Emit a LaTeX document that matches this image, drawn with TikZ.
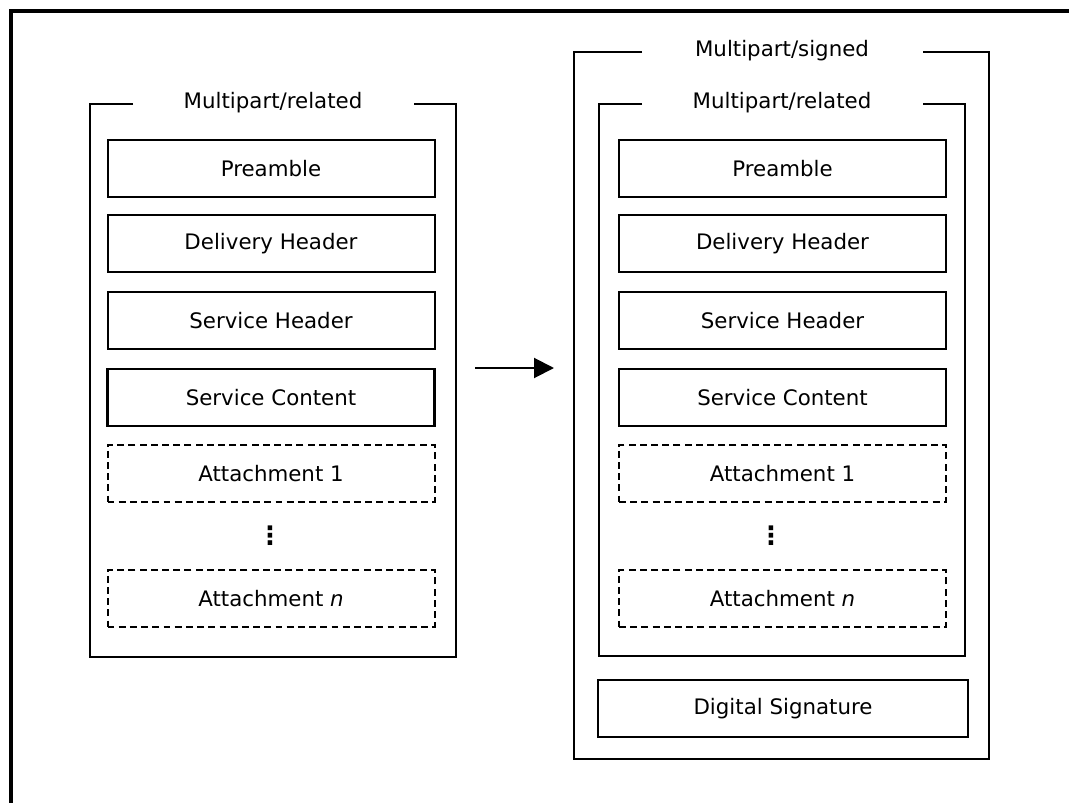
\documentclass[tikz,border=0pt]{standalone}
\usepackage{fontspec}
\setmainfont{DejaVu Sans}
\usetikzlibrary{arrows.meta}
\begin{document}
\begin{tikzpicture}[x=0.75pt,y=-0.75pt,
  part/.style={draw, line width=1.5pt, minimum width=327*0.75pt, minimum height=57*0.75pt,
               inner sep=0pt, font=\fontsize{16pt}{19pt}\selectfont},
  mainpart/.style={part, line width=1.9pt},
  optpart/.style={part, dashed, dash pattern=on 5.2pt off 3.2pt, line width=1.5pt},
  frame/.style={line width=1.6pt},
  outerframe/.style={line width=1.1pt},
  caption/.style={inner sep=0pt, font=\fontsize{16pt}{19pt}\selectfont},
  vdots/.style={inner sep=0pt, font=\bfseries\fontsize{19pt}{22pt}\selectfont},
  page/.style={line width=2.4pt}]
\useasboundingbox (0,0) rectangle (1069,802);

% page border (top and left edges)
\draw[page] (1075,11) -- (11,11) -- (11,810);

% ---------- left: multipart/related ----------
\draw[frame] (133,104) -| (90,657) -| (456,104) -- (414,104);
\node[caption] (relL) at (273,103) {Multipart/related};

\node[part]     (preL) at (271,168.5) {Preamble};
\node[part]     (delL) at (271,243.5) {Delivery Header};
\node[part]     (shL)  at (271,320.5) {Service Header};
\node[mainpart] (scL)  at (271,397.5) {Service Content};
\node[optpart]  (a1L)  at (271,473.5) {Attachment 1};
\node[vdots]    (dotL) at (270,536) {⋮};
\node[optpart]  (anL)  at (271,598.5) {Attachment \textit{n}};

% ---------- arrow ----------
\coordinate (arrS) at (475,368);
\coordinate (arrE) at (554,368);
\draw[line width=1.5pt, -{Triangle[length=15pt,width=15pt]}] (arrS) -- (arrE);

% ---------- right: multipart/signed ----------
\draw[outerframe] (642,52) -| (574,759) -| (989,52) -- (923,52);
\node[caption] (sigR) at (782,51) {Multipart/signed};

\draw[frame] (642,104) -| (599,656) -| (965,104) -- (923,104);
\node[caption] (relR) at (782,103) {Multipart/related};

\node[part]     (preR) at (782.5,168.5) {Preamble};
\node[part]     (delR) at (782.5,243.5) {Delivery Header};
\node[part]     (shR)  at (782.5,320.5) {Service Header};
\node[mainpart] (scR)  at (782.5,397.5) {Service Content};
\node[optpart]  (a1R)  at (782.5,473.5) {Attachment 1};
\node[vdots]    (dotR) at (771,536) {⋮};
\node[optpart]  (anR)  at (782.5,598.5) {Attachment \textit{n}};

\node[mainpart, minimum width=370*0.75pt] (dsR) at (783,708.5) {Digital Signature};
\end{tikzpicture}
\end{document}
